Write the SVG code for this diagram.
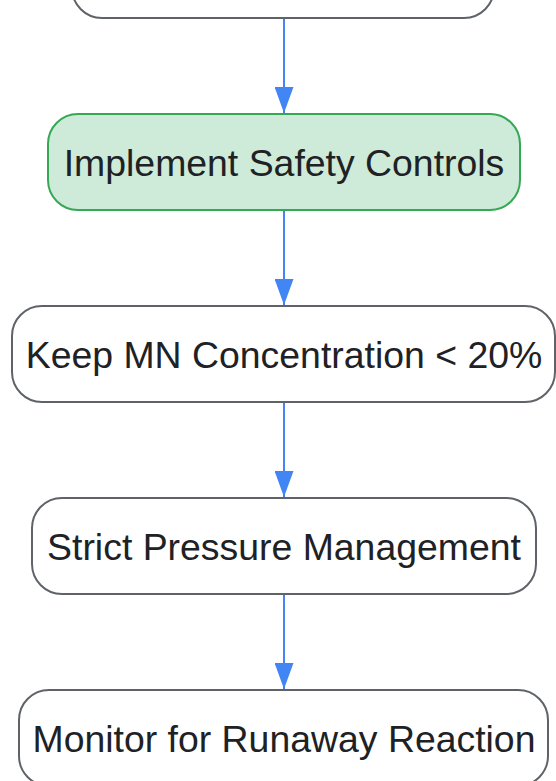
<svg xmlns="http://www.w3.org/2000/svg" width="556" height="781" viewBox="0 0 556 781">
<defs>
<style>
.node rect{fill:#ffffff;stroke:#5f6368;stroke-width:2}
.node.green rect{fill:#ceead8;stroke:#34a853}
.node text{font-family:"Liberation Sans",Arial,sans-serif;font-size:37.4px;fill:#202124;text-anchor:middle}
.edge{stroke:#4285f4;stroke-width:2;fill:none}
</style>
<marker id="arrow" viewBox="0 0 26 19" refX="26" refY="9.5" markerWidth="26" markerHeight="19" markerUnits="userSpaceOnUse" orient="auto">
<path d="M0,0 L26,9.5 L0,19 Z" fill="#4285f4"/>
</marker>
</defs>
<rect width="556" height="781" fill="#ffffff"/>
<g id="connectors">
<line class="edge" x1="284" y1="18" x2="284" y2="113" marker-end="url(#arrow)"/>
<line class="edge" x1="284" y1="210" x2="284" y2="305" marker-end="url(#arrow)"/>
<line class="edge" x1="284" y1="402" x2="284" y2="497" marker-end="url(#arrow)"/>
<line class="edge" x1="284" y1="594" x2="284" y2="689" marker-end="url(#arrow)"/>
</g>
<g id="node-top" class="node">
<rect x="72" y="-78" width="422" height="96" rx="30"/>
</g>
<g id="node-safety" class="node green">
<rect x="48" y="114" width="472" height="96" rx="30"/>
<text x="284" y="176">Implement Safety Controls</text>
</g>
<g id="node-mn" class="node">
<rect x="12" y="306" width="543" height="96" rx="30"/>
<text x="284" y="368">Keep MN Concentration &lt; 20%</text>
</g>
<g id="node-pressure" class="node">
<rect x="32" y="498" width="504" height="96" rx="30"/>
<text x="284" y="560">Strict Pressure Management</text>
</g>
<g id="node-monitor" class="node">
<rect x="19" y="690" width="529" height="96" rx="30"/>
<text x="284" y="752">Monitor for Runaway Reaction</text>
</g>
</svg>
